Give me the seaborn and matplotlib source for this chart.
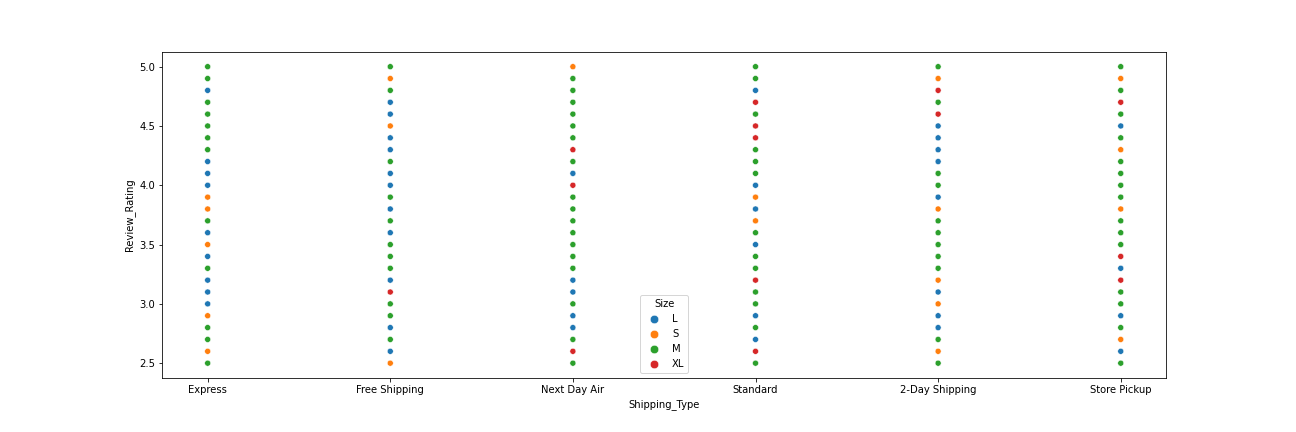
import seaborn as sns
import matplotlib.pyplot as plt
import pandas as pd

shipping_types = ['Express', 'Free Shipping', 'Next Day Air', 'Standard',
                  '2-Day Shipping', 'Store Pickup']

# ratings from 5.0 down to 2.5 in steps of 0.1
ratings = [5.0, 4.9, 4.8, 4.7, 4.6, 4.5, 4.4, 4.3, 4.2, 4.1, 4.0, 3.9, 3.8,
           3.7, 3.6, 3.5, 3.4, 3.3, 3.2, 3.1, 3.0, 2.9, 2.8, 2.7, 2.6, 2.5]

# visible size at each rating, top to bottom, per shipping type
express = ['M', 'M', 'L', 'M', 'M', 'M', 'M', 'M', 'L', 'L', 'L', 'S', 'S',
           'M', 'L', 'S', 'L', 'M', 'L', 'L', 'L', 'S', 'M', 'M', 'S', 'M']
free_shipping = ['M', 'S', 'M', 'L', 'L', 'S', 'L', 'L', 'M', 'L', 'L', 'M', 'L',
                 'M', 'L', 'M', 'M', 'M', 'L', 'XL', 'M', 'M', 'L', 'M', 'L', 'S']
next_day_air = ['S', 'M', 'M', 'M', 'M', 'M', 'M', 'XL', 'M', 'L', 'XL', 'M', 'M',
                'M', 'M', 'M', 'M', 'M', 'L', 'L', 'M', 'L', 'L', 'M', 'XL', 'M']
standard = ['M', 'M', 'L', 'XL', 'M', 'XL', 'XL', 'M', 'M', 'M', 'L', 'S', 'L',
            'S', 'M', 'L', 'M', 'M', 'XL', 'M', 'M', 'L', 'M', 'L', 'XL', 'M']
two_day = ['M', 'S', 'XL', 'M', 'XL', 'L', 'L', 'L', 'L', 'M', 'M', 'L', 'S',
           'M', 'M', 'M', 'M', 'M', 'S', 'L', 'S', 'L', 'L', 'M', 'S', 'M']
store_pickup = ['M', 'S', 'M', 'XL', 'M', 'L', 'M', 'S', 'M', 'M', 'M', 'M', 'S',
                'M', 'M', 'M', 'XL', 'L', 'XL', 'M', 'M', 'L', 'M', 'S', 'L', 'M']

sizes_by_type = [express, free_shipping, next_day_air, standard, two_day,
                 store_pickup]

rows = []
for st, sizes in zip(shipping_types, sizes_by_type):
  for r, s in zip(ratings, sizes):
    rows.append({'Shipping_Type': st, 'Review_Rating': r, 'Size': s})
df = pd.DataFrame(rows)

fig, ax = plt.subplots(figsize=(18, 6), dpi=72)
fig.subplots_adjust(bottom=0.125)
sns.scatterplot(data=df, x='Shipping_Type', y='Review_Rating', hue='Size',
                hue_order=['L', 'S', 'M', 'XL'], ax=ax)
ax.legend(title='Size', loc='lower center', markerscale=1.4)

plt.savefig('out.png')
